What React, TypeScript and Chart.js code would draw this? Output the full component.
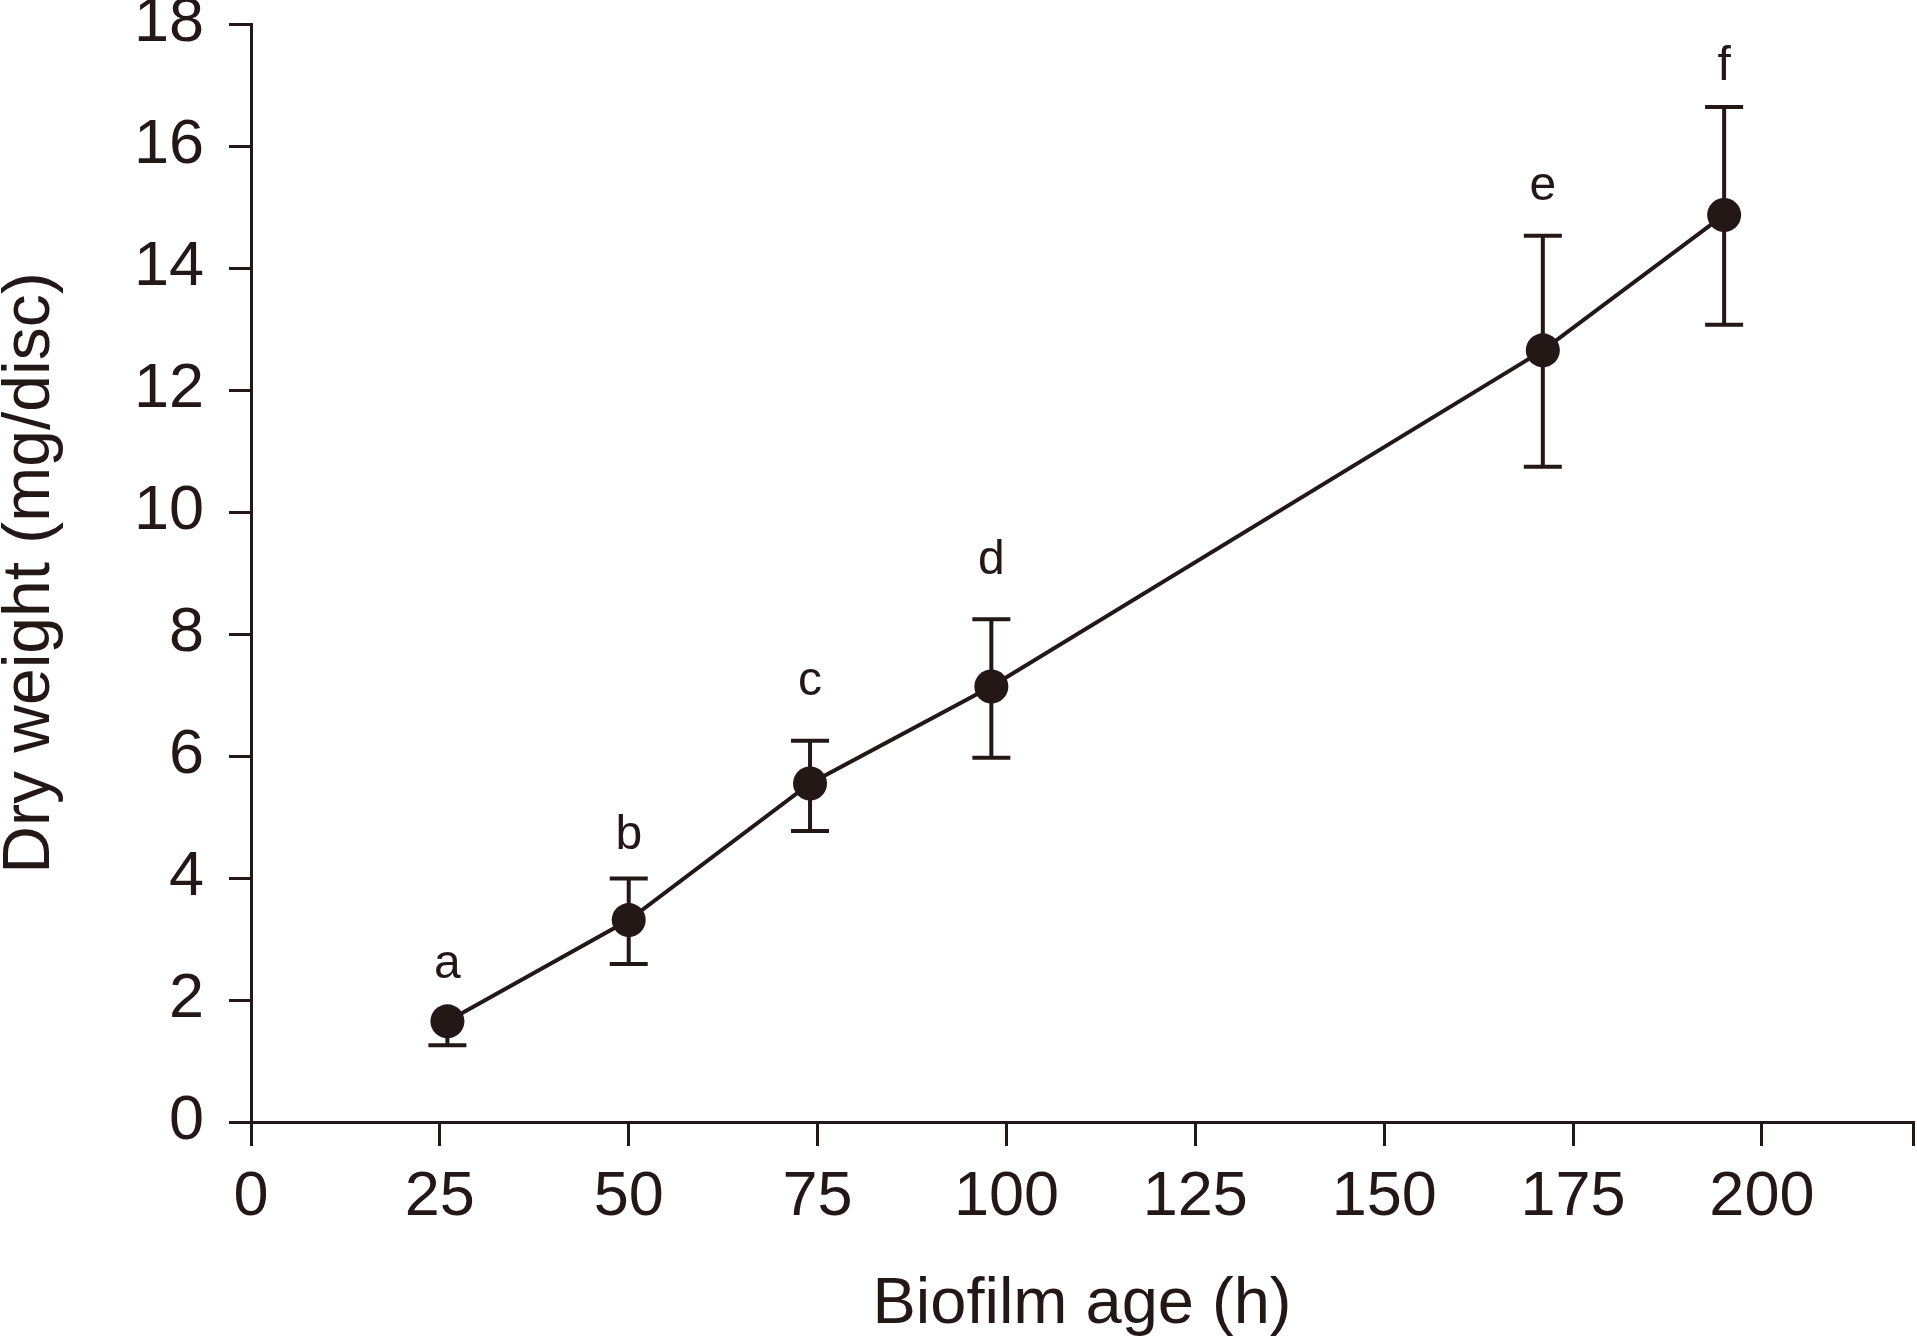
import React, { useEffect, useRef } from "react";
import { Chart, registerables } from "chart.js";

Chart.register(...registerables);

// ---- data ----
const hours = [26, 50, 74, 98, 171, 195];
const dryWeight = [1.65, 3.31, 5.55, 7.14, 12.65, 14.87];
const errUpper = [null, 3.99, 6.25, 8.24, 14.53, 16.64];
const errLower = [1.26, 2.59, 4.77, 5.97, 10.74, 13.07];
const groupLetters = ["a", "b", "c", "d", "e", "f"];
const letterAt = [2.57, 4.69, 7.22, 9.2, 15.33, 17.3];
const xTicks = [0, 25, 50, 75, 100, 125, 150, 175, 200];

const INK = "#231815";
const FONT = "'Liberation Sans', Arial, Helvetica, sans-serif";

const W = 1917;
const H = 1337;

const errorBarPlugin = {
  id: "errorBars",
  beforeDatasetsDraw(chart: any) {
    const { ctx, scales } = chart;
    const x = scales.x;
    const y = scales.y;
    ctx.save();
    ctx.strokeStyle = INK;
    ctx.lineWidth = 4;
    const half = 19;
    hours.forEach((h, i) => {
      const px = x.getPixelForValue(h);
      const top =
        errUpper[i] != null ? y.getPixelForValue(errUpper[i] as number) : y.getPixelForValue(dryWeight[i]);
      const bot = y.getPixelForValue(errLower[i]);
      ctx.beginPath();
      ctx.moveTo(px, top);
      ctx.lineTo(px, bot);
      ctx.stroke();
      if (errUpper[i] != null) {
        ctx.beginPath();
        ctx.moveTo(px - half, top);
        ctx.lineTo(px + half, top);
        ctx.stroke();
      }
      ctx.beginPath();
      ctx.moveTo(px - half, bot);
      ctx.lineTo(px + half, bot);
      ctx.stroke();
    });
    ctx.restore();
  },
  afterDatasetsDraw(chart: any) {
    const { ctx, scales } = chart;
    const x = scales.x;
    const y = scales.y;
    ctx.save();
    ctx.fillStyle = INK;
    ctx.font = `48px ${FONT}`;
    ctx.textAlign = "center";
    ctx.textBaseline = "middle";
    hours.forEach((h, i) => {
      ctx.fillText(groupLetters[i], x.getPixelForValue(h), y.getPixelForValue(letterAt[i]));
    });
    ctx.restore();
  },
};

export default function App() {
  const ref = useRef<HTMLCanvasElement | null>(null);

  useEffect(() => {
    if (!ref.current) return;
    const chart = new Chart(ref.current, {
      type: "line",
      data: {
        datasets: [
          {
            data: hours.map((h, i) => ({ x: h, y: dryWeight[i] })),
            borderColor: INK,
            backgroundColor: INK,
            borderWidth: 4,
            pointRadius: 17,
            pointHoverRadius: 17,
            pointBackgroundColor: INK,
            pointBorderColor: INK,
            pointBorderWidth: 0,
            tension: 0,
          },
        ],
      },
      options: {
        responsive: false,
        animation: false,
        events: [],
        layout: { autoPadding: false, padding: { top: 24, right: 4, left: 0, bottom: 0 } },
        plugins: { legend: { display: false }, tooltip: { enabled: false } },
        scales: {
          x: {
            type: "linear",
            min: 0,
            max: 220,
            afterBuildTicks: (scale: any) => {
              scale.ticks = [...xTicks, 220].map((v) => ({ value: v }));
            },
            afterFit: (scale: any) => {
              scale.height = H - 1122;
              scale.paddingLeft = 0;
              scale.paddingRight = 0;
              scale.paddingTop = 0;
              scale.paddingBottom = 0;
            },
            ticks: {
              autoSkip: false,
              maxRotation: 0,
              color: INK,
              padding: 14,
              font: { family: FONT, size: 63 },
              callback: (v: any) => (xTicks.includes(Number(v)) ? String(v) : ""),
            },
            grid: {
              drawOnChartArea: false,
              drawTicks: true,
              tickLength: 24,
              color: INK,
              lineWidth: 3,
            },
            border: { display: true, color: INK, width: 3 },
            title: {
              display: true,
              text: "Biofilm age (h)",
              color: INK,
              font: { family: FONT, size: 65, lineHeight: 1 },
              padding: { top: 0, bottom: -1 },
            },
          },
          y: {
            type: "linear",
            min: 0,
            max: 18,
            afterFit: (scale: any) => {
              scale.width = 251;
              scale.paddingLeft = 0;
              scale.paddingRight = 0;
              scale.paddingTop = 0;
              scale.paddingBottom = 0;
            },
            ticks: {
              stepSize: 2,
              color: INK,
              padding: 25,
              font: { family: FONT, size: 63 },
            },
            grid: {
              drawOnChartArea: false,
              drawTicks: true,
              tickLength: 22,
              color: INK,
              lineWidth: 3,
            },
            border: { display: true, color: INK, width: 3 },
            title: {
              display: true,
              text: "Dry weight (mg/disc)",
              color: INK,
              font: { family: FONT, size: 66, lineHeight: 1 },
              padding: { top: -2, bottom: 0 },
            },
          },
        },
      },
      plugins: [errorBarPlugin],
    } as any);
    return () => chart.destroy();
  }, []);

  return (
    <div style={{ position: "fixed", left: 0, top: 0, width: W, height: H, background: "#fff" }}>
      <canvas ref={ref} width={W} height={H} style={{ width: W, height: H, display: "block" }} />
    </div>
  );
}
